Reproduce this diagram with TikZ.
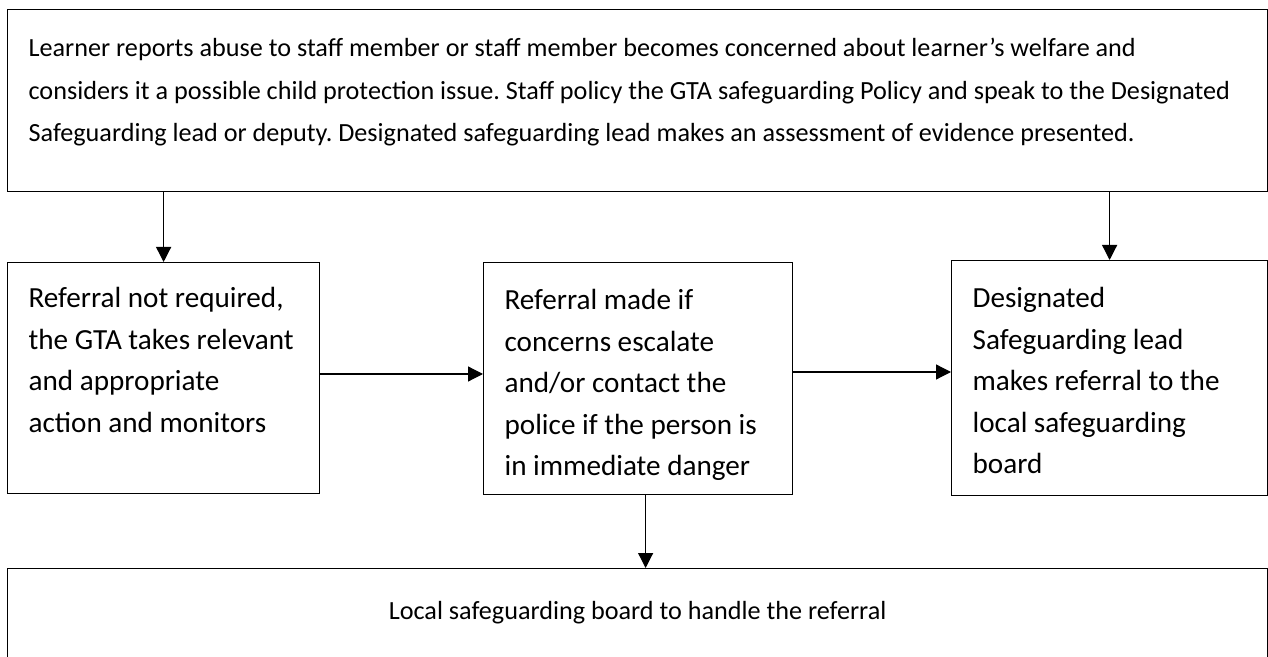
\documentclass[tikz,border=0pt]{standalone}
\usepackage{fontspec}
\setmainfont{Carlito}
\usepackage{tikz}
\usetikzlibrary{arrows.meta, positioning}
\frenchspacing

\begin{document}
\begin{tikzpicture}[
      stage/.style={draw, line width=0.7pt, anchor=north west, align=flush left, inner xsep=0.42cm, inner ysep=0pt},
      wide/.style={stage, text width=24.36cm, font=\fontsize{14.9}{24.2}\selectfont},
      arrow/.style={-{Triangle[length=0.3cm, width=0.3cm]}, line width=0.7pt},
      every node/.style={font=\fontsize{16.6}{23.6}\selectfont}
    ]
    \useasboundingbox (0,0) rectangle (25.36,-13.14);

    % Nodes
    \node[wide, text height=0.94cm, text depth=2.7cm] (intake) at (0.14,-0.18)
        {Learner reports abuse to staff member or staff member becomes concerned about learner’s welfare and\\
         considers it a possible child protection issue. Staff policy the GTA safeguarding Policy and speak to the Designated\\
         Safeguarding lead or deputy. Designated safeguarding lead makes an assessment of evidence presented.};
    \node[stage, text width=5.4cm, text height=0.9cm, text depth=3.72cm] (noref) at (0.14,-5.24)
        {Referral not required,\\ the GTA takes relevant\\ and appropriate\\ action and monitors};
    \node[stage, text width=5.34cm, text height=0.94cm, text depth=3.7cm] (escalate) at (9.66,-5.24)
        {Referral made if\\ concerns escalate\\ and/or contact the\\ police if the person is\\ in immediate danger};
    \node[stage, text width=5.48cm, text height=0.94cm, text depth=3.76cm] (dsl) at (19.02,-5.2)
        {Designated\\ Safeguarding lead\\ makes referral to the\\ local safeguarding\\ board};
    \node[wide, align=flush center, text height=1.02cm, text depth=1.12cm] (board) at (0.14,-11.36)
        {Local safeguarding board to handle the referral};

    % Arrows
    \draw[arrow] (noref.north |- intake.south) -- (noref.north);
    \draw[arrow] (dsl.north |- intake.south) -- (dsl.north);
    \draw[arrow] (noref.east |- 0,-7.48) -- (escalate.west |- 0,-7.48);
    \draw[arrow] (escalate.east |- 0,-7.44) -- (dsl.west |- 0,-7.44);
    \draw[arrow] ([xshift=0.15cm]escalate.south) -- ([xshift=0.15cm]escalate.south |- board.north);

\end{tikzpicture}
\end{document}
